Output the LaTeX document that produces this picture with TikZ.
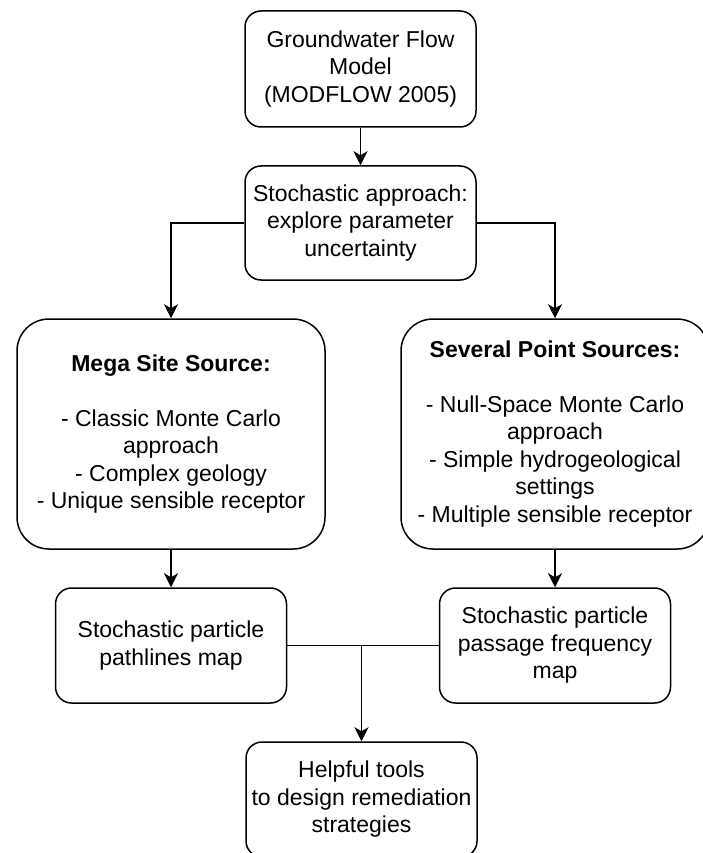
\documentclass[tikz,border=0pt]{standalone}
\usepackage{fontspec}
\setmainfont{Liberation Sans}
\usepackage{tikz}
\usetikzlibrary{arrows.meta}

\tikzset{
    flowbox/.style={draw, line width=1.5pt, rounded corners=16pt, align=center,
        minimum width=231pt, minimum height=115pt, inner sep=0pt,
        font=\fontsize{23}{27.5}\selectfont},
    bigbox/.style={flowbox, rounded corners=32pt, minimum width=308pt, minimum height=230pt},
    flowarrow/.style={line width=1.5pt, -{Stealth[length=14pt, width=14pt, inset=4pt]}},
}

\begin{document}
\begin{tikzpicture}[x=1pt, y=-1pt]

    \useasboundingbox (0,0) rectangle (702,853);

    % Model and stochastic approach
    \node[flowbox, minimum height=116pt] (model) at (360.5,69) {Groundwater Flow\\Model\\(MODFLOW 2005)};
    \node[flowbox, minimum height=114pt] (stoch) at (360.5,223) {Stochastic approach:\\explore parameter\\uncertainty};

    % The two source cases
    \node[bigbox] (mega) at (171,434) {\textbf{Mega Site Source:}\\[27.5pt]- Classic Monte Carlo\\approach\\- Complex geology\\- Unique sensible receptor};
    \node[bigbox] (point) at (555,434) {\textbf{Several Point Sources:}\\[27.5pt]- Null-Space Monte Carlo\\approach\\- Simple hydrogeological\\settings\\- Multiple sensible receptor};

    % Resulting maps
    \node[flowbox] (pathmap) at (171,645.5) {Stochastic particle\\pathlines map};
    \node[flowbox] (freqmap) at (555,645.5) {Stochastic particle\\passage frequency\\map};

    % Final box (cut by the page edge)
    \node[flowbox] (tools) at (361.5,799.5) {Helpful tools\\to design remediation\\strategies};

    \coordinate (join) at (pathmap.east -| tools.north);

    % Connectors
    \draw[flowarrow] (stoch.west) -| (mega.north);
    \draw[flowarrow] (stoch.east) -| (point.north);
    \draw[line width=1.5pt] (pathmap) -- (freqmap);
    \foreach \a/\b in {model/stoch, mega/pathmap, point/freqmap, join/tools} {
        \draw[flowarrow] (\a) -- (\b);
    }

\end{tikzpicture}
\end{document}
